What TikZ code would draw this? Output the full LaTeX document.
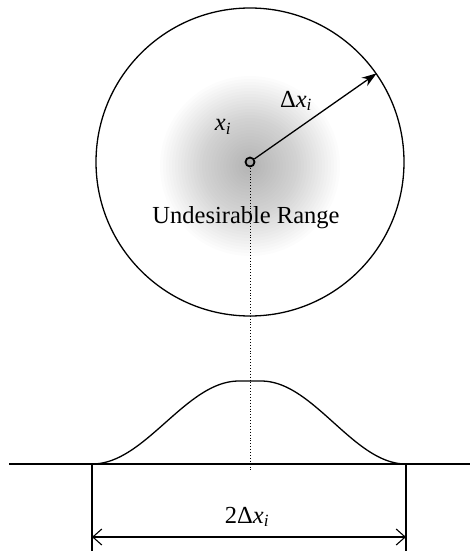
\documentclass[tikz,border=0pt]{standalone}
\usepackage{fontspec}
\setmainfont{Liberation Serif}
\usetikzlibrary{arrows.meta}
\begin{document}
\begin{tikzpicture}[x=1pt,y=-1pt,line width=1.3pt,
  lbl/.style={font=\fontsize{24.5}{26}\selectfont, inner sep=0pt},
  dimline/.style={line width=1.1pt},
  haze/.style={fill=black, fill opacity=0.012}]
\useasboundingbox (0,0) rectangle (470,551);
\coordinate (cc) at (250,162);
\coordinate (hc) at (250,166);
\foreach \r in {3,6,...,90} {\fill[haze] (hc) circle[radius=\r pt];}
\node[circle, draw, minimum size=308pt, inner sep=0pt] (big) at (cc) {};
\coordinate (dotEnd) at (250,472);
\draw[dotted, line width=0.9pt] (cc) -- (dotEnd);
\node[circle, draw, line width=1.8pt, fill=black!35, minimum size=9pt, inner sep=0pt] (c) at (cc) {};
\draw[-{Stealth[length=15pt,width=10pt]}] (c) -- (big.35);
\node[lbl] (dx) at (296,101) {Δ\textit{x}\textsubscript{\textit{i}}};
\node[lbl] (xi) at (223,127) {\textit{x}\textsubscript{\textit{i}}};
\node[lbl] (ur) at (246,218) {Undesirable Range};
% axis
\coordinate (axL) at (9,464);
\coordinate (axR) at (470,464);
\draw (axL) -- (axR);
% bell
\draw plot[domain=0:1, samples=60, smooth] ({92+147*\x}, {464-83*(1-cos(180*\x))/2})
  -- (261,381)
  -- plot[domain=0:1, samples=60, smooth] ({261+145*\x}, {464-83*(1+cos(180*\x))/2});
% dimension
\coordinate (dL) at (92,464);
\coordinate (dR) at (406,464);
\coordinate (dLb) at (92,551);
\coordinate (dRb) at (406,551);
\coordinate (aL) at (92,537);
\coordinate (aR) at (406,537);
\draw[dimline] (dL) -- (dLb);
\draw[dimline] (dR) -- (dRb);
\draw[dimline, {Straight Barb[length=9pt,width=16pt]}-{Straight Barb[length=9pt,width=16pt]}] (aL) -- (aR);
\node[lbl] (two) at (247,517) {2Δ\textit{x}\textsubscript{\textit{i}}};
\end{tikzpicture}
\end{document}
